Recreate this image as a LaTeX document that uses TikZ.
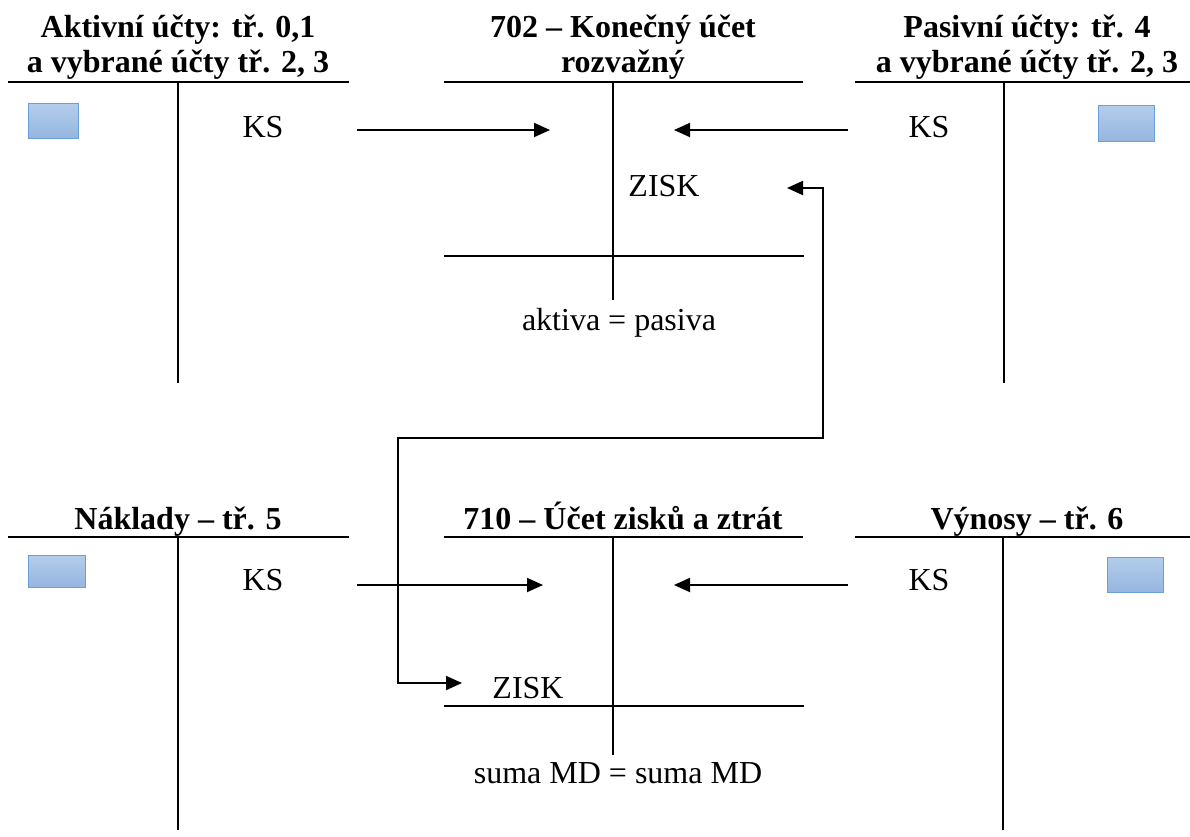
\documentclass[tikz,border=0pt]{standalone}
\usepackage{fontspec}
\setmainfont{Liberation Serif}
\usetikzlibrary{arrows.meta}
\definecolor{chiptop}{HTML}{B4CDEB}
\definecolor{chipbot}{HTML}{95B6E0}
\definecolor{chipedge}{HTML}{6A9FDA}
\begin{document}
\begin{tikzpicture}[x=1pt,y=-1pt,
  acct/.style={line width=1.9pt},
  conn/.style={line width=1.9pt,-{Triangle[length=16pt,width=14pt]}},
  ttl/.style={font=\fontsize{32}{35}\selectfont\bfseries, align=center, inner sep=0pt},
  lbl/.style={font=\fontsize{32}{38}\selectfont, inner sep=0pt, anchor=base},
  chip/.style={draw=chipedge, line width=0.9pt, top color=chiptop, bottom color=chipbot}
]
\useasboundingbox (0,0) rectangle (1190,836);

% ---------- top row ----------
\node[ttl, anchor=south] (tA) at (178,80) {Aktivní účty: tř. 0,1\\a vybrané účty tř. 2, 3};
\node[ttl, anchor=south] (tK) at (623,80) {702 – Konečný účet\\rozvažný};
\node[ttl, anchor=south] (tP) at (1027,80) {Pasivní účty: tř. 4\\a vybrané účty tř. 2, 3};

\draw[acct] (8,82) -- (349,82) (178,82) -- (178,383);
\draw[acct] (444,82) -- (803,82) (613,82) -- (613,300) (444,256) -- (804,256);
\draw[acct] (855,82) -- (1190,82) (1004,82) -- (1004,383);

\draw[chip] (28,103) rectangle (78,138);
\draw[chip] (1098,105) rectangle (1154,141);

\node[lbl] (ksA) at (263,137) {KS};
\node[lbl] (ksP) at (929,137) {KS};
\node[lbl] (ziskK) at (664,196) {ZISK};
\node[lbl] (apK) at (619,330) {aktiva = pasiva};

\coordinate (a1s) at (357,130);
\coordinate (a1e) at (550,130);
\coordinate (a2s) at (848,130);
\coordinate (a2e) at (674,130);
\draw[conn] (a1s) -- (a1e);
\draw[conn] (a2s) -- (a2e);

% ---------- bottom row ----------
\node[ttl, anchor=base] (tN) at (178,529) {Náklady – tř. 5};
\node[ttl, anchor=base] (tZ) at (623,529) {710 – Účet zisků a ztrát};
\node[ttl, anchor=base] (tV) at (1027,529) {Výnosy – tř. 6};

\draw[acct] (8,537) -- (349,537) (178,537) -- (178,830);
\draw[acct] (444,537) -- (803,537) (613,537) -- (613,755) (444,706) -- (804,706);
\draw[acct] (855,537) -- (1190,537) (1003,537) -- (1003,830);

\draw[chip] (28,555) rectangle (85,587);
\draw[chip] (1107,557) rectangle (1163,592);

\node[lbl] (ksN) at (263,590) {KS};
\node[lbl] (ksV) at (929,590) {KS};
\node[lbl] (ziskZ) at (528,698) {ZISK};
\node[lbl] (smZ) at (618,783) {suma MD = suma MD};

\coordinate (b1s) at (357,585);
\coordinate (b1e) at (543,585);
\coordinate (b2s) at (848,585);
\coordinate (b2e) at (674,585);
\draw[conn] (b1s) -- (b1e);
\draw[conn] (b2s) -- (b2e);

% ---------- profit transfer ----------
\coordinate (z1) at (787,188);
\coordinate (z2) at (823,188);
\coordinate (z3) at (823,438);
\coordinate (z4) at (398,438);
\coordinate (z5) at (398,683);
\coordinate (z6) at (462,683);
\draw[line width=1.9pt, {Triangle[length=16pt,width=14pt]}-{Triangle[length=16pt,width=14pt]}]
  (z1) -- (z2) -- (z3) -- (z4) -- (z5) -- (z6);
\end{tikzpicture}
\end{document}
